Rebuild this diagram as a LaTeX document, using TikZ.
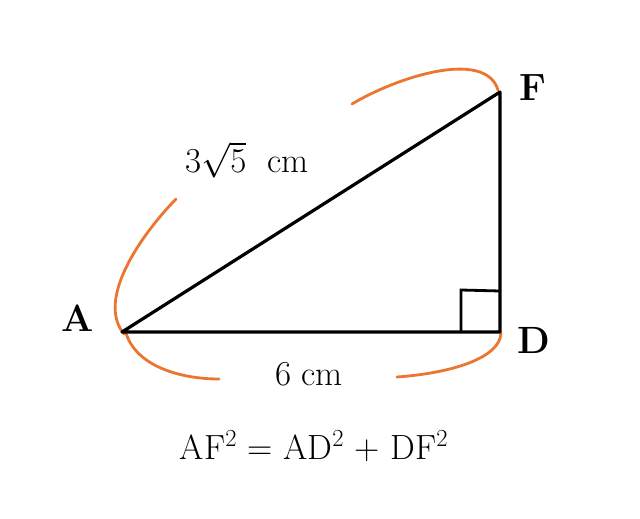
\RequirePackage{fix-cm}
\documentclass[tikz,border=0pt]{standalone}
\usepackage{fontspec}
\definecolor{arcorange}{RGB}{234,118,48}
\begin{document}
\begin{tikzpicture}[x=1pt,y=-1pt,
  edge/.style={line width=3.2pt,line cap=round,line join=round},
  marker/.style={line width=2.8pt,arcorange,line cap=round},
  vlabel/.style={font=\fontsize{38}{44}\selectfont\bfseries,inner sep=0pt},
  mlabel/.style={font=\fontsize{35}{40}\selectfont,inner sep=0pt}]
\useasboundingbox[fill=white] (0,0) rectangle (640,519);
\coordinate (A) at (122,332);
\coordinate (D) at (500,332);
\coordinate (F) at (500,92);
\coordinate (s1) at (461,332);
\coordinate (s2) at (461,290);
\coordinate (s3) at (500,291);
% orange arcs
\coordinate (h1) at (176,199);
\coordinate (h2) at (124,334);
\coordinate (b1) at (126,333);
\coordinate (b2) at (219,379);
\coordinate (t1) at (352,104);
\coordinate (t2) at (498,90);
\coordinate (r1) at (397,377);
\coordinate (r2) at (501,333);
\draw[marker] (h1) .. controls (140,236) and (96,300) .. (h2);
\draw[marker] (b1) .. controls (136,366) and (180,379) .. (b2);
\draw[marker] (t1) .. controls (395,78) and (485,48) .. (t2);
\draw[marker] (r1) .. controls (452,373) and (500,358) .. (r2);
% triangle
\draw[edge] (A) -- (D) -- (F) -- cycle;
\draw[line width=2.8pt] (s1) -- (s2) -- (s3);
% labels
\node[vlabel] (la) at (78,318) {A};
\node[vlabel] (lf) at (533,88) {F};
\node[vlabel] (ld) at (534,340) {D};
\node[mlabel] (hyp) at (247,160) {$3\sqrt{5}$\ \ cm};
\node[mlabel] (base) at (309,374) {6 cm};
\node[mlabel] (eq) at (314,446) {AF\textsuperscript{2} = AD\textsuperscript{2} + DF\textsuperscript{2}};
\end{tikzpicture}
\end{document}
